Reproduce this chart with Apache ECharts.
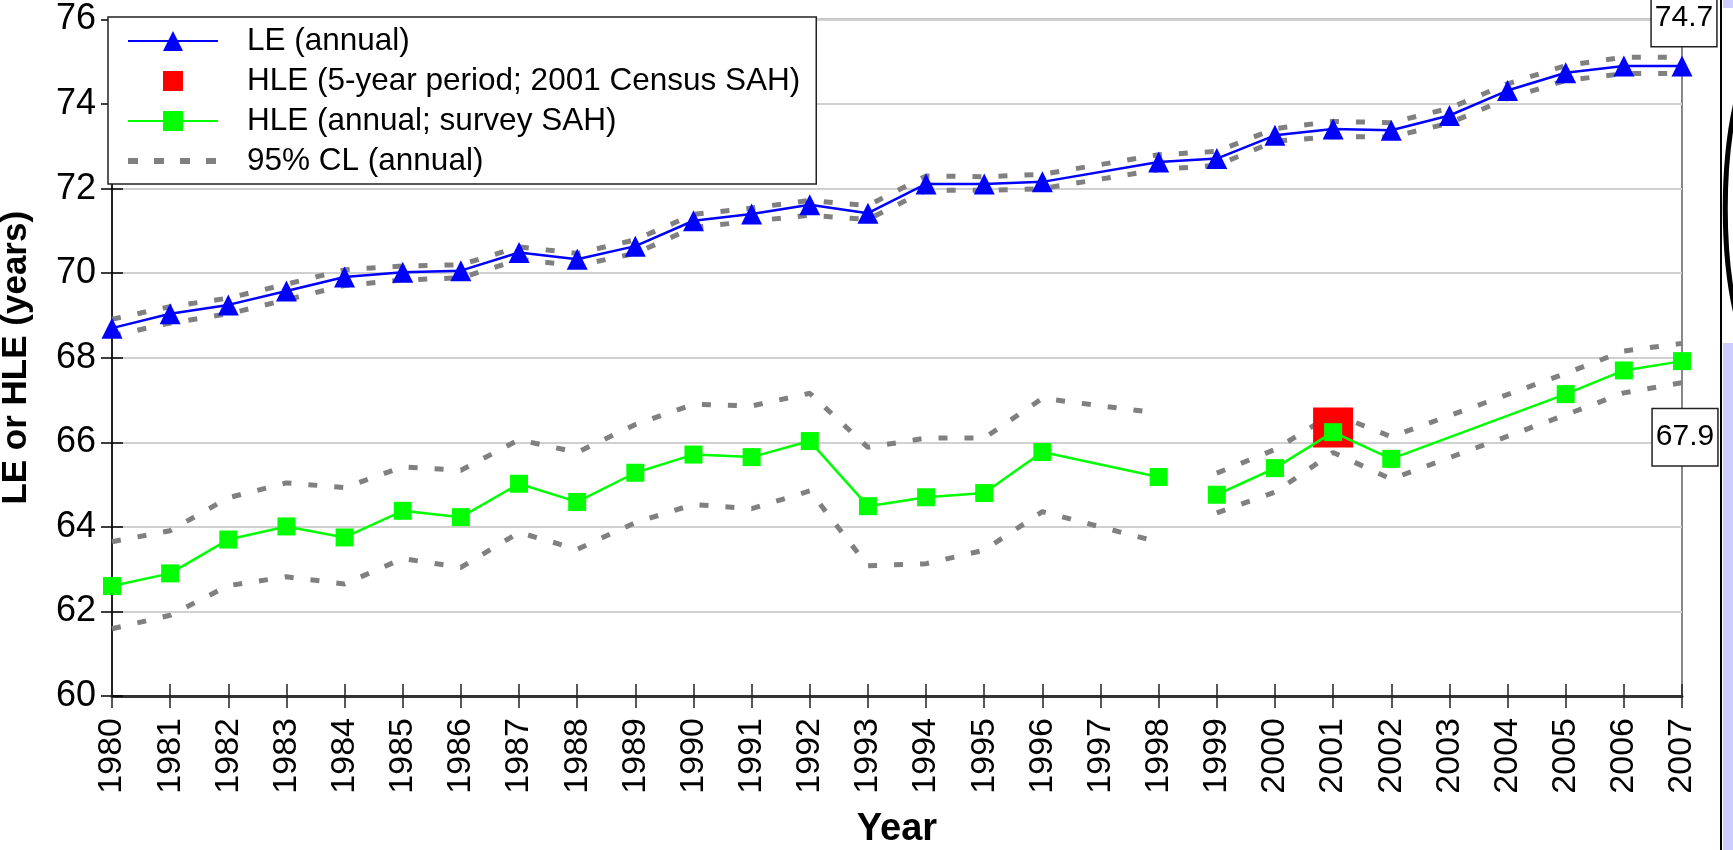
<!DOCTYPE html>
<html>
<head>
<meta charset="utf-8">
<title>LE and HLE</title>
<script src="https://cdn.jsdelivr.net/npm/echarts@6/dist/echarts.min.js"></script>
<style>
  html, body { margin: 0; padding: 0; background: #fff; }
  #chart { width: 1733px; height: 850px; }
</style>
</head>
<body>
<div id="chart"></div>
<script>
// categories
var years = ['1980', '1981', '1982', '1983', '1984', '1985', '1986', '1987', '1988', '1989',
  '1990', '1991', '1992', '1993', '1994', '1995', '1996', '1997', '1998', '1999',
  '2000', '2001', '2002', '2003', '2004', '2005', '2006', '2007'];

// life expectancy, annual (no value for 1997)
var leValues = [68.70, 69.04, 69.25, 69.58, 69.91, 70.02, 70.06, 70.49, 70.33, 70.64,
  71.24, 71.40, 71.62, 71.42, 72.11, 72.11, 72.16, null, 72.63, 72.71,
  73.26, 73.41, 73.38, 73.73, 74.32, 74.74, 74.90, 74.90];
var leUpper = [68.91, 69.21, 69.41, 69.74, 70.08, 70.17, 70.20, 70.62, 70.47, 70.79,
  71.39, 71.54, 71.72, 71.60, 72.30, 72.28, 72.34, null, 72.80, 72.88,
  73.42, 73.59, 73.56, 73.90, 74.48, 74.91, 75.11, 75.11];
var leLower = [68.52, 68.82, 69.04, 69.37, 69.71, 69.84, 69.89, 70.32, 70.18, 70.47,
  71.08, 71.23, 71.37, 71.27, 71.96, 71.96, 72.00, null, 72.45, 72.55,
  73.12, 73.23, 73.22, 73.55, 74.13, 74.56, 74.72, 74.72];

// healthy life expectancy, annual survey (break between 1998 and 1999)
var hleValues = [62.60, 62.90, 63.70, 64.01, 63.75, 64.38, 64.23, 65.02, 64.59, 65.28,
  65.71, 65.65, 66.03, 64.49, 64.70, 64.80, 65.77, null, 65.18, 64.76,
  65.39, 66.24, 65.61, null, null, 67.14, 67.70, 67.92];
var hleUpper = [63.65, 63.91, 64.69, 65.04, 64.93, 65.42, 65.34, 66.06, 65.76, 66.42,
  66.90, 66.86, 67.16, 65.88, 66.10, 66.10, 67.04, null, 66.69, 65.27,
  65.83, 66.68, 66.13, null, null, 67.63, 68.16, 68.34];
var hleLower = [61.59, 61.91, 62.61, 62.82, 62.65, 63.25, 63.04, 63.87, 63.47, 64.10,
  64.53, 64.43, 64.85, 63.08, 63.13, 63.45, 64.36, null, 63.64, 64.33,
  64.82, 65.76, 65.13, null, null, 66.65, 67.17, 67.41];
var hleBreakAfter = '1998';

// HLE, 5-year period from 2001 census
var hle5Point = ['2001', 66.35];

// end value boxes
var leEndLabel = '74.7';
var hleEndLabel = '67.9';

var yTicks = { min: 60, max: 76, interval: 2 };

var names = ['LE (annual)', 'HLE (5-year period; 2001 Census SAH)', 'HLE (annual; survey SAH)', '95% CL (annual)'];

var font = "'Liberation Sans', Arial, sans-serif";
var breakIdx = years.indexOf(hleBreakAfter);

function part(values, first) {
  return values.map(function (v, i) {
    return (first ? i <= breakIdx : i > breakIdx) ? v : null;
  });
}

function withEndLabel(values, text, offset) {
  var last = values.length - 1;
  return values.map(function (v, i) {
    if (i !== last) return v;
    return { value: v, label: { show: true, formatter: text, offset: offset } };
  });
}

var boxLabel = {
  position: 'inside',
  fontFamily: font,
  fontSize: 30,
  color: '#000',
  backgroundColor: '#fff',
  borderColor: '#222',
  borderWidth: 1.5,
  padding: [10, 3, 10, 3],
  lineHeight: 36
};

var clLine = { color: '#808080', width: 5, type: [9, 17], cap: 'butt' };

function cl(data) {
  return {
    type: 'line',
    name: names[3],
    data: data,
    symbol: 'none',
    connectNulls: true,
    itemStyle: { color: 'rgba(0,0,0,0)' },
    lineStyle: clLine,
    z: 2
  };
}

var chart = echarts.init(document.getElementById('chart'));

chart.setOption({
  animation: false,
  backgroundColor: '#fff',
  textStyle: { fontFamily: font },
  grid: {
    left: 112, right: 51, top: 19.5, bottom: 154,
    show: true, borderColor: '#888', borderWidth: 2,
    outerBoundsMode: 'none'
  },
  legend: {
    data: [
      { name: names[0] },
      { name: names[1] },
      { name: names[2] },
      { name: names[3], lineStyle: { color: '#808080', width: 6, type: [10, 16] } }
    ],
    orient: 'vertical',
    left: 108, top: 17,
    padding: [8, 16, 7, 17],
    itemWidth: 90, itemHeight: 25, itemGap: 8,
    backgroundColor: '#fff',
    borderColor: '#222', borderWidth: 1.5,
    selectedMode: false,
    textStyle: { fontFamily: font, fontSize: 31.5, color: '#000', lineHeight: 32, padding: [0, 0, 0, 24] },
    z: 10
  },
  xAxis: [{
    type: 'category',
    data: years,
    boundaryGap: false,
    name: 'Year',
    nameLocation: 'middle',
    nameGap: 115,
    nameTextStyle: { fontFamily: font, fontSize: 38, fontWeight: 'bold', color: '#000' },
    axisLine: { lineStyle: { color: '#333', width: 3 } },
    axisTick: { interval: 0, length: 12, lineStyle: { color: '#222', width: 1.5 } },
    axisLabel: { interval: 0, rotate: 90, margin: 22, fontSize: 34, color: '#000', fontFamily: font },
    splitLine: { show: false }
  }, {
    type: 'category',
    data: years,
    boundaryGap: false,
    position: 'bottom',
    axisLine: { show: false },
    axisTick: { inside: true, interval: 0, length: 12, lineStyle: { color: '#222', width: 1.5 } },
    axisLabel: { show: false },
    splitLine: { show: false }
  }],
  yAxis: [{
    type: 'value',
    min: yTicks.min, max: yTicks.max, interval: yTicks.interval,
    position: 'left',
    name: 'LE or HLE (years)',
    nameLocation: 'middle',
    nameGap: 78,
    nameTextStyle: { fontFamily: font, fontSize: 35, fontWeight: 'bold', color: '#000' },
    axisLine: { show: true, lineStyle: { color: '#000', width: 1.5 } },
    axisTick: { show: true, length: 11, lineStyle: { color: '#000', width: 1.5 } },
    axisLabel: { margin: 16, fontSize: 36, color: '#000', fontFamily: font },
    splitLine: { show: true, lineStyle: { color: '#d0d0d0', width: 2 } }
  }, {
    type: 'value',
    min: yTicks.min, max: yTicks.max, interval: yTicks.interval,
    position: 'left',
    axisLine: { show: false },
    axisTick: { show: true, inside: true, length: 11, lineStyle: { color: '#000', width: 1.5 } },
    axisLabel: { show: false },
    splitLine: { show: false }
  }],
  series: [
    cl(leUpper),
    cl(leLower),
    cl(part(hleUpper, true)),
    cl(part(hleLower, true)),
    cl(part(hleUpper, false)),
    cl(part(hleLower, false)),
    {
      type: 'line',
      name: names[1],
      data: [hle5Point],
      symbol: 'rect',
      symbolSize: 40,
      itemStyle: { color: '#ff0000' },
      lineStyle: { width: 0, opacity: 0 },
      z: 3
    },
    {
      type: 'line',
      name: names[2],
      data: part(hleValues, true),
      connectNulls: true,
      symbol: 'rect',
      symbolSize: 18,
      itemStyle: { color: '#00ff00' },
      lineStyle: { color: '#00ff00', width: 2.5 },
      z: 4
    },
    {
      type: 'line',
      name: names[2],
      data: withEndLabel(part(hleValues, false), hleEndLabel, [3, 76]),
      connectNulls: true,
      symbol: 'rect',
      symbolSize: 18,
      itemStyle: { color: '#00ff00' },
      lineStyle: { color: '#00ff00', width: 2.5 },
      label: boxLabel,
      z: 4
    },
    {
      type: 'line',
      name: names[0],
      data: withEndLabel(leValues, leEndLabel, [2, -48]),
      connectNulls: true,
      symbol: 'triangle',
      symbolSize: 21,
      itemStyle: { color: '#0000ff' },
      lineStyle: { color: '#0000ff', width: 2.5 },
      label: boxLabel,
      z: 5
    }
  ],
  graphic: [
    { type: 'rect', shape: { x: 1723, y: 0, width: 10, height: 8 }, style: { fill: '#ccccff' }, silent: true },
    { type: 'rect', shape: { x: 1723, y: 343, width: 10, height: 507 }, style: { fill: '#ccccff' }, silent: true },
    { type: 'line', shape: { x1: 1721, y1: 0, x2: 1721, y2: 850 }, style: { stroke: '#000', lineWidth: 2 }, silent: true },
    {
      type: 'bezierCurve',
      shape: { x1: 1738, y1: 94, cpx1: 1721, cpy1: 160, cpx2: 1721, cpy2: 258, x2: 1738, y2: 322 },
      style: { stroke: '#000', lineWidth: 5, fill: null },
      silent: true
    }
  ]
});
</script>
</body>
</html>
